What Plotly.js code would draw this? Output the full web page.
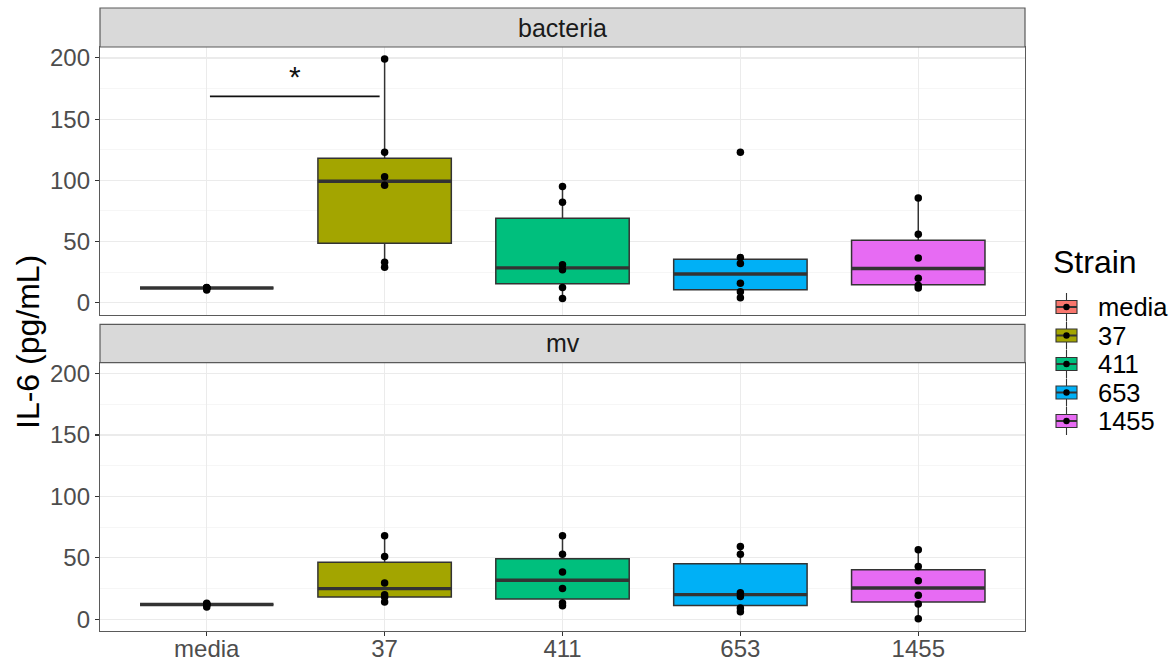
<!DOCTYPE html>
<html><head><meta charset="utf-8">
<script src="https://cdn.plot.ly/plotly-3.0.1.min.js"></script>
<style>html,body{margin:0;padding:0;background:#fff}#chart{width:1176px;height:664px}</style>
</head><body><div id="chart"></div>
<script>
// ---------- data ----------
const categories = ['media', '37', '411', '653', '1455'];
const strainColors = ['#F8766D', '#A3A500', '#00BF7D', '#00B0F6', '#E76BF3'];
const facetNames = ['bacteria', 'mv'];

// individual observations (pg/mL)
const bacteriaMedia = [12.5, 12, 12, 12, 12, 10.5];
const bacteria37    = [199, 123, 103, 96, 33, 29];
const bacteria411   = [95, 82, 31, 27, 12.5, 3.5];
const bacteria653   = [123, 37, 32, 16, 9, 4];
const bacteria1455  = [85.5, 56, 36.5, 20, 14, 12];

const mvMedia = [13, 12, 12, 12, 12, 10];
const mv37    = [68, 51, 29.5, 20, 18, 14];
const mv411   = [68, 53, 38.5, 25, 13.3, 11];
const mv653   = [59.3, 53, 21.5, 18.5, 9.2, 6];
const mv1455  = [56.6, 43, 31.4, 19.5, 12.4, 0.3];

// box statistics (media, 37, 411, 653, 1455)
const bacteriaQ1     = [12, 48.7, 15.5, 10.6, 14.7];
const bacteriaMedian = [12, 99.3, 28.5, 23.5, 28];
const bacteriaQ3     = [12, 118, 69, 35.5, 51.1];
const bacteriaLower  = [12, 29, 3.5, 4, 12];
const bacteriaUpper  = [12, 199, 95, 37, 85.5];

const mvQ1     = [12, 18.1, 16.5, 11.1, 14.1];
const mvMedian = [12, 24.9, 31.7, 20, 25.4];
const mvQ3     = [12, 46.3, 49.3, 45.2, 40.3];
const mvLower  = [12, 14, 11, 6, 0.3];
const mvUpper  = [12, 68, 68, 59.3, 56.6];

// significance annotation (bacteria facet): media vs 37
const sigPair = [0, 1];
const sigY = 168.5;
const sigLabel = '*';

const yTicks = [0, 50, 100, 150, 200];

// ---------- layout helpers ----------
const W = 1176, H = 664, mL = 100, mR = 151, mT = 8, mB = 33;
const plotW = W - mL - mR, plotH = H - mT - mB;
const pxX = x => (x - mL) / plotW;
const pxY = y => (H - mB - y) / plotH;
const FONT = 'Liberation Sans, Arial, Helvetica, sans-serif';

const panels = [
  {xa: 'x', ya: 'y', pts: [bacteriaMedia, bacteria37, bacteria411, bacteria653, bacteria1455],
   q1: bacteriaQ1, med: bacteriaMedian, q3: bacteriaQ3, lo: bacteriaLower, hi: bacteriaUpper},
  {xa: 'x2', ya: 'y2', pts: [mvMedia, mv37, mv411, mv653, mv1455],
   q1: mvQ1, med: mvMedian, q3: mvQ3, lo: mvLower, hi: mvUpper}
];

const traces = [];
panels.forEach(p => {
  categories.forEach((c, i) => {
    traces.push({
      type: 'box', orientation: 'v', x: [i],
      q1: [p.q1[i]], median: [p.med[i]], q3: [p.q3[i]],
      lowerfence: [p.lo[i]], upperfence: [p.hi[i]],
      width: 0.75, fillcolor: strainColors[i],
      line: {color: '#333333', width: 1.5}, whiskerwidth: 0,
      boxpoints: false, xaxis: p.xa, yaxis: p.ya,
      showlegend: false, hoverinfo: 'skip'
    });
  });
  const mx = [], my = [];
  categories.forEach((c, i) => { mx.push(i - 0.375, i + 0.375, null); my.push(p.med[i], p.med[i], null); });
  traces.push({type: 'scatter', mode: 'lines', x: mx, y: my, line: {color: '#333333', width: 3.4},
    xaxis: p.xa, yaxis: p.ya, showlegend: false, hoverinfo: 'skip'});
  const ox = [], oy = [];
  categories.forEach((c, i) => p.pts[i].forEach(v => { ox.push(i); oy.push(v); }));
  traces.push({type: 'scatter', mode: 'markers', x: ox, y: oy,
    marker: {color: '#000000', size: 7.5}, xaxis: p.xa, yaxis: p.ya, showlegend: false, hoverinfo: 'skip'});
});

const yRange = [-9.6, 208.9];
const xRange = [-0.6, categories.length - 0.4];
const dom1 = [pxY(314.5), pxY(47)];
const dom2 = [0, pxY(362.7)];

const baseX = {
  range: xRange, tickmode: 'array', tickvals: categories.map((c, i) => i), ticktext: categories,
  showgrid: true, gridcolor: '#EBEBEB', gridwidth: 1.2, zeroline: false,
  showline: true, mirror: true, linecolor: '#5a5a5a', linewidth: 1.2, fixedrange: true
};
const baseY = {
  range: yRange, tickmode: 'array', tickvals: yTicks, ticktext: yTicks.map(String),
  showgrid: true, gridcolor: '#EBEBEB', gridwidth: 1.2, zeroline: false,
  minor: {dtick: 25, tick0: 25, showgrid: true, gridcolor: '#F4F4F4', gridwidth: 0.8, ticks: ''},
  ticks: 'outside', ticklen: 4, tickwidth: 1.1, tickcolor: '#333333',
  tickfont: {family: FONT, size: 24, color: '#4D4D4D'},
  showline: true, mirror: true, linecolor: '#5a5a5a', linewidth: 1.2, fixedrange: true
};

const shapes = [];
const annotations = [];

// facet strips
[[8, 47, facetNames[0]], [324.3, 362.7, facetNames[1]]].forEach(s => {
  shapes.push({type: 'rect', xref: 'paper', yref: 'paper', x0: 0, x1: 1, y0: pxY(s[1]), y1: pxY(s[0]),
    fillcolor: '#D9D9D9', line: {color: '#5a5a5a', width: 1.2}, layer: 'above'});
  annotations.push({xref: 'paper', yref: 'paper', x: 0.5, y: pxY((s[0] + s[1]) / 2), text: s[2],
    showarrow: false, xanchor: 'center', yanchor: 'middle',
    font: {family: FONT, size: 25, color: '#1A1A1A'}});
});

// significance bracket
shapes.push({type: 'line', xref: 'x', yref: 'y', x0: sigPair[0] + 0.018, x1: sigPair[1] - 0.028,
  y0: sigY, y1: sigY, line: {color: '#111111', width: 1.8}});
annotations.push({xref: 'x', yref: 'y', x: (sigPair[0] + sigPair[1]) / 2 - 0.005, y: sigY, text: sigLabel,
  showarrow: false, xanchor: 'center', yanchor: 'bottom', yshift: 1,
  font: {family: FONT, size: 30, color: '#111111'}});

// y title
annotations.push({xref: 'paper', yref: 'paper', x: pxX(28), y: pxY(342), text: 'IL-6 (pg/mL)',
  textangle: -90, showarrow: false, xanchor: 'center', yanchor: 'middle',
  font: {family: FONT, size: 32, color: '#000000'}});

// legend
annotations.push({xref: 'paper', yref: 'paper', x: pxX(1051), y: pxY(262), text: 'Strain',
  showarrow: false, xanchor: 'left', yanchor: 'middle', font: {family: FONT, size: 32, color: '#000000'}});
categories.forEach((c, k) => {
  const yc = 307 + k * 28.5;
  const xc = 1066.5;
  shapes.push({type: 'line', xref: 'paper', yref: 'paper', x0: pxX(xc), x1: pxX(xc),
    y0: pxY(yc - 14), y1: pxY(yc + 14), line: {color: '#333333', width: 1.1}});
  shapes.push({type: 'rect', xref: 'paper', yref: 'paper', x0: pxX(xc - 10.5), x1: pxX(xc + 10.5),
    y0: pxY(yc + 6.5), y1: pxY(yc - 6.5), fillcolor: strainColors[k], line: {color: '#333333', width: 1.1}});
  shapes.push({type: 'line', xref: 'paper', yref: 'paper', x0: pxX(xc - 10.5), x1: pxX(xc + 10.5),
    y0: pxY(yc), y1: pxY(yc), line: {color: '#333333', width: 2}});
  shapes.push({type: 'circle', xref: 'paper', yref: 'paper', x0: pxX(xc - 3.2), x1: pxX(xc + 3.2),
    y0: pxY(yc + 3.2), y1: pxY(yc - 3.2), fillcolor: '#000000', line: {width: 0}});
  annotations.push({xref: 'paper', yref: 'paper', x: pxX(1096), y: pxY(yc), text: c,
    showarrow: false, xanchor: 'left', yanchor: 'middle', font: {family: FONT, size: 25.5, color: '#000000'}});
});

const layout = {
  width: W, height: H, margin: {l: mL, r: mR, t: mT, b: mB, pad: 0},
  paper_bgcolor: '#FFFFFF', plot_bgcolor: '#FFFFFF', showlegend: false,
  font: {family: FONT},
  xaxis: Object.assign({}, baseX, {anchor: 'y', domain: [0, 1], showticklabels: false, ticks: ''}),
  xaxis2: Object.assign({}, baseX, {anchor: 'y2', domain: [0, 1], showticklabels: true,
    ticks: 'outside', ticklen: 4, tickwidth: 1.1, tickcolor: '#333333', ticklabelstandoff: -8,
    tickfont: {family: FONT, size: 24, color: '#4D4D4D'}}),
  yaxis: Object.assign({}, baseY, {anchor: 'x', domain: dom1}),
  yaxis2: Object.assign({}, baseY, {anchor: 'x2', domain: dom2}),
  shapes: shapes, annotations: annotations
};

Plotly.newPlot('chart', traces, layout, {displayModeBar: false, staticPlot: true});
</script>
</body></html>
